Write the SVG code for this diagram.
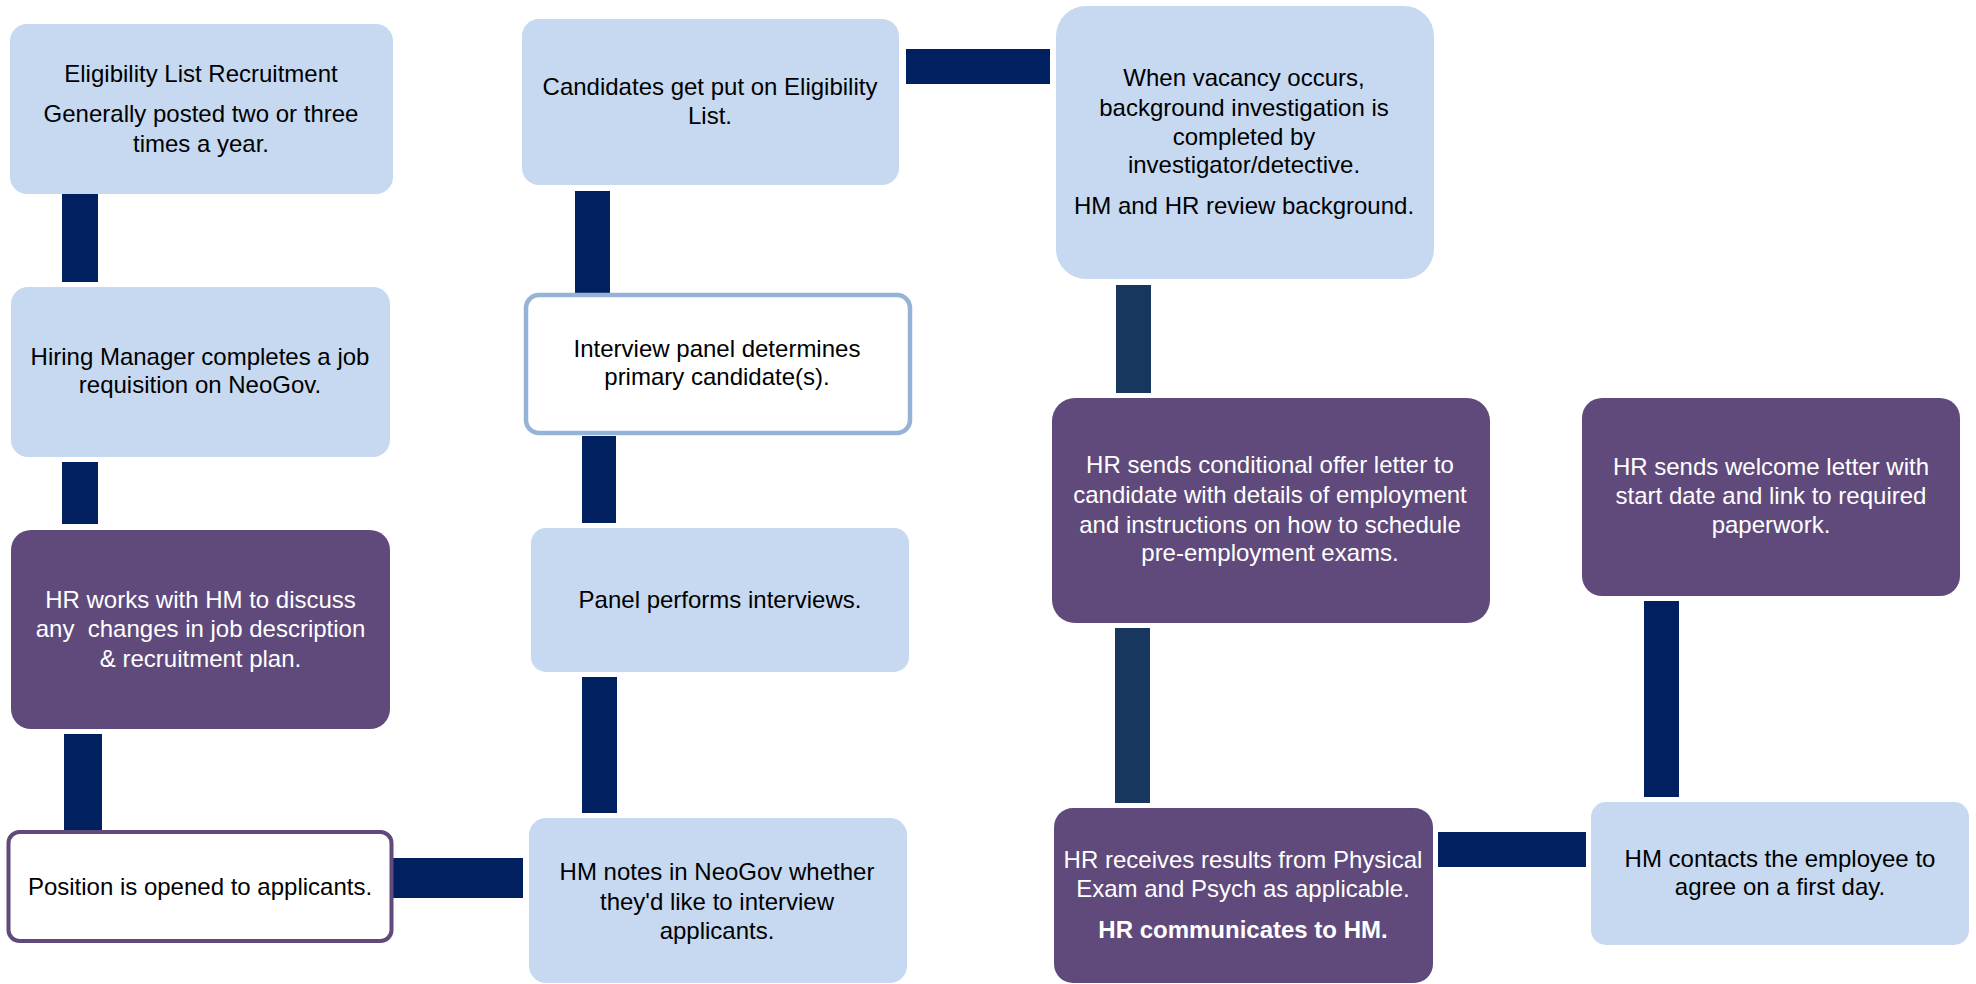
<svg xmlns="http://www.w3.org/2000/svg" width="1976" height="984" viewBox="0 0 1976 984">
<style>
.lb{fill:#c6d9f1;}
.pu{fill:#604a7b;}
.wp{fill:#ffffff;stroke:#604a7b;stroke-width:4;}
.wb{fill:#ffffff;stroke:#95b3d7;stroke-width:4.5;}
.cn{fill:#002060;}
.cs{fill:#17375e;}
text{font-family:"Liberation Sans",Arial,sans-serif;font-size:24px;text-anchor:middle;}
.dk{fill:#000000;}
.wt{fill:#ffffff;}
.b{font-weight:bold;}
</style>
<rect width="1976" height="984" fill="#ffffff"/>
<g id="connectors">
<rect class="cn" x="62" y="194" width="36" height="88"/>
<rect class="cn" x="62" y="462" width="36" height="62"/>
<rect class="cn" x="64" y="734" width="38" height="96"/>
<rect class="cn" x="393" y="858" width="130" height="40"/>
<rect class="cn" x="582" y="677" width="35" height="136"/>
<rect class="cn" x="582" y="436" width="34" height="87"/>
<rect class="cn" x="575" y="191" width="35" height="102"/>
<rect class="cn" x="906" y="49" width="144" height="35"/>
<rect class="cs" x="1116" y="285" width="35" height="108"/>
<rect class="cs" x="1115" y="628" width="35" height="175"/>
<rect class="cn" x="1438" y="832" width="148" height="35"/>
<rect class="cn" x="1644" y="601" width="35" height="196"/>
</g>
<g id="node-eligibility">
<rect class="lb" x="10" y="24" width="383" height="170" rx="17"/>
<text class="dk" x="201" y="82">Eligibility List Recruitment</text>
<text class="dk" x="201" y="122">Generally posted two or three</text>
<text class="dk" x="201" y="152">times a year.</text>
</g>
<g id="node-requisition">
<rect class="lb" x="11" y="287" width="379" height="170" rx="17"/>
<text class="dk" x="200" y="365">Hiring Manager completes a job</text>
<text class="dk" x="200" y="393">requisition on NeoGov.</text>
</g>
<g id="node-hr-works">
<rect class="pu" x="11" y="530" width="379" height="199" rx="20"/>
<text class="wt" x="200.5" y="608">HR works with HM to discuss</text>
<text class="wt" x="200.5" y="637" xml:space="preserve">any  changes in job description</text>
<text class="wt" x="200.5" y="667">&amp; recruitment plan.</text>
</g>
<g id="node-position">
<rect class="wp" x="8.5" y="832" width="383" height="109" rx="11"/>
<text class="dk" x="200" y="895">Position is opened to applicants.</text>
</g>
<g id="node-hm-notes">
<rect class="lb" x="529" y="818" width="378" height="165" rx="17"/>
<text class="dk" x="717" y="880">HM notes in NeoGov whether</text>
<text class="dk" x="717" y="910">they'd like to interview</text>
<text class="dk" x="717" y="939">applicants.</text>
</g>
<g id="node-panel">
<rect class="lb" x="531" y="528" width="378" height="144" rx="15"/>
<text class="dk" x="720" y="608">Panel performs interviews.</text>
</g>
<g id="node-interview">
<rect class="wb" x="526" y="295" width="384" height="138" rx="13"/>
<text class="dk" x="717" y="357">Interview panel determines</text>
<text class="dk" x="717" y="385">primary candidate(s).</text>
</g>
<g id="node-candidates">
<rect class="lb" x="522" y="19" width="377" height="166" rx="17"/>
<text class="dk" x="710" y="95">Candidates get put on Eligibility</text>
<text class="dk" x="710" y="124">List.</text>
</g>
<g id="node-vacancy">
<rect class="lb" x="1056" y="6" width="378" height="273" rx="30"/>
<text class="dk" x="1244" y="86">When vacancy occurs,</text>
<text class="dk" x="1244" y="116">background investigation is</text>
<text class="dk" x="1244" y="145">completed by</text>
<text class="dk" x="1244" y="173">investigator/detective.</text>
<text class="dk" x="1244" y="214">HM and HR review background.</text>
</g>
<g id="node-offer">
<rect class="pu" x="1052" y="398" width="438" height="225" rx="23"/>
<text class="wt" x="1270" y="473">HR sends conditional offer letter to</text>
<text class="wt" x="1270" y="503">candidate with details of employment</text>
<text class="wt" x="1270" y="533">and instructions on how to schedule</text>
<text class="wt" x="1270" y="561">pre-employment exams.</text>
</g>
<g id="node-results">
<rect class="pu" x="1054" y="808" width="379" height="175" rx="19"/>
<text class="wt" x="1243" y="868">HR receives results from Physical</text>
<text class="wt" x="1243" y="897">Exam and Psych as applicable.</text>
<text class="wt b" x="1243" y="938">HR communicates to HM.</text>
</g>
<g id="node-contacts">
<rect class="lb" x="1591" y="802" width="378" height="143" rx="15"/>
<text class="dk" x="1780" y="867">HM contacts the employee to</text>
<text class="dk" x="1780" y="895">agree on a first day.</text>
</g>
<g id="node-welcome">
<rect class="pu" x="1582" y="398" width="378" height="198" rx="20"/>
<text class="wt" x="1771" y="475">HR sends welcome letter with</text>
<text class="wt" x="1771" y="504">start date and link to required</text>
<text class="wt" x="1771" y="533">paperwork.</text>
</g>
</svg>
